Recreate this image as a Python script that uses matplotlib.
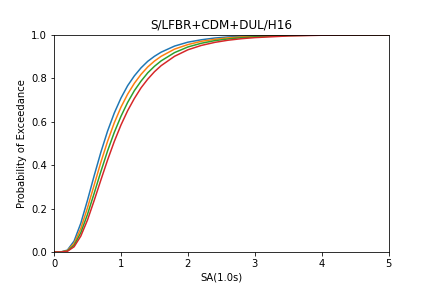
import matplotlib
matplotlib.use("Agg")
import matplotlib.pyplot as plt

sa = [0.0, 0.1, 0.2, 0.3, 0.4, 0.5, 0.6, 0.7, 0.8, 0.9, 1.0, 1.1, 1.2, 1.3, 1.4,
      1.5, 1.6, 1.8, 2.0, 2.2, 2.4, 2.6, 2.8, 3.0, 3.5, 4.0, 5.0]

ds1 = [0.0, 0.0001, 0.0087, 0.0503, 0.132, 0.238, 0.351, 0.459, 0.556, 0.639, 0.708,
       0.765, 0.810, 0.847, 0.877, 0.900, 0.919, 0.947, 0.965, 0.976, 0.984, 0.989,
       0.992, 0.9945, 0.9976, 0.9989, 0.9997]
ds2 = [0.0, 0.0001, 0.0063, 0.0391, 0.108, 0.203, 0.308, 0.413, 0.509, 0.594, 0.666,
       0.726, 0.776, 0.817, 0.851, 0.878, 0.900, 0.933, 0.954, 0.969, 0.978, 0.985,
       0.989, 0.992, 0.9966, 0.9984, 0.9996]
ds3 = [0.0, 0.0, 0.0045, 0.0306, 0.0887, 0.173, 0.270, 0.370, 0.465, 0.550, 0.624,
       0.688, 0.742, 0.786, 0.824, 0.854, 0.879, 0.917, 0.943, 0.960, 0.972, 0.980,
       0.9857, 0.9897, 0.9953, 0.9977, 0.9994]
ds4 = [0.0, 0.0, 0.0033, 0.024, 0.073, 0.147, 0.237, 0.331, 0.423, 0.508, 0.584,
       0.650, 0.706, 0.755, 0.795, 0.829, 0.857, 0.900, 0.930, 0.950, 0.964, 0.974,
       0.981, 0.986, 0.9936, 0.9969, 0.9991]

title = "S/LFBR+CDM+DUL/H16"

fig = plt.figure(figsize=(6, 4), dpi=72)
ax = fig.add_subplot(111)
fig.subplots_adjust(left=0.125, right=0.9, top=0.88, bottom=0.125)
for s in (ds1, ds2, ds3, ds4):
    ax.plot(sa, s)
ax.set_xlim(0, 5)
ax.set_ylim(0, 1)
ax.set_xlabel("SA(1.0s)")
ax.set_ylabel("Probability of Exceedance")
ax.set_title(title)
fig.savefig("out.png", dpi=72)
